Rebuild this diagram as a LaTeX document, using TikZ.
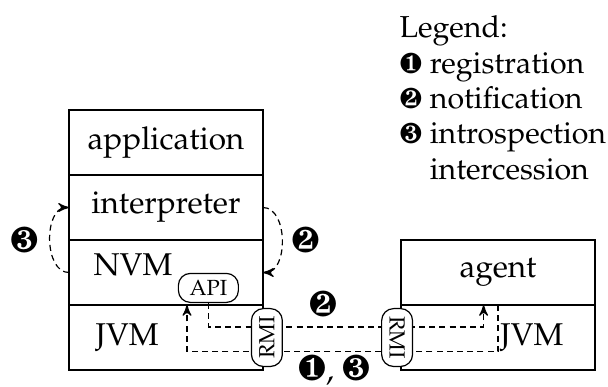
\documentclass[tikz,border=0pt]{standalone}
\usepackage[T1]{fontenc}
\usepackage{mathpazo}
\usepackage{pifont}
\usepackage{tikz}
\usetikzlibrary{arrows}
\usetikzlibrary{positioning}
\usetikzlibrary{calc}

\newcommand{\stepnum}[1]{{\fontsize{12}{11.83}\selectfont\ding{#1}}}
\newcommand{\legnum}[1]{{\fontsize{9.6}{11.83}\selectfont\ding{#1}}}

\tikzset{
  every node/.style={font=\fontsize{10.5}{11.83}\selectfont},
  layer/.style={draw, minimum width=64.67pt, minimum height=21.67pt, inner sep=0pt, outer sep=0pt},
  tag/.style={inner sep=0pt},
  iface/.style={draw, fill=white, rounded corners=4pt, font=\fontsize{7.3}{8}\selectfont, inner sep=1.5pt},
  flow/.style={dash pattern=on 2pt off 1.4pt, -stealth'},
}

\begin{document}
\begin{tikzpicture}
    \useasboundingbox (0,0) rectangle (202.67pt,-128.67pt);
    % left stack
    \node[layer] (app) at (55.33pt,-47.5pt) {application};
    \node[layer, below=0pt of app] (interp) {interpreter};
    \node[layer, below=0pt of interp] (nvm) {};
    \node[layer, below=0pt of nvm] (jvm) {};
    \node[tag, below right=4.3pt and 8pt of nvm.north west] (nvmname) {NVM};
    \node[tag, right=8.7pt of jvm.west] (jvmname) {JVM};
    \node[iface, minimum width=20pt, minimum height=9.67pt, above left=0.67pt and 8pt of nvm.south east] (api) {API};
    % right stack
    \node[layer, right=46pt of jvm] (ajvm) {};
    \node[layer, above=0pt of ajvm] (agent) {agent};
    \node[tag, left=10.3pt of ajvm.east] (ajvmname) {JVM};

    % loops inside the application
    \draw[flow] (nvm.west) to[out=180, in=180] (interp.west);
    \draw[flow] (interp.east) to[out=0, in=0] (nvm.east);
    \node[tag, left=10pt of interp.south west] (introlbl) {\stepnum{184}};
    \node[tag, right=9.3pt of interp.south east] (notiflbl) {\stepnum{183}};

    % remote calls
    \coordinate (notifend) at ($(ajvm.north)+(-4.8pt,0)$);
    \coordinate (introend) at ($(jvm.north)+(7pt,0)$);
    \draw[flow] (api.south) |- ($(notifend)+(0,-7.3pt)$) -- (notifend);
    \draw[flow] (ajvm.north) |- ($(introend)+(0,-15.5pt)$) -- (introend);
    \node[tag] (remotenotif) at ($(jvm.north east)!0.5!(ajvm.north west)+(-3pt,0.5pt)$) {\stepnum{183}};
    \node[tag] (remoteintro) at ($(jvm.south east)!0.5!(ajvm.south west)+(0.7pt,-0.2pt)$) {\stepnum{182}, \stepnum{184}};
    \node[iface, rotate=90, minimum width=19.3pt, minimum height=10.3pt] (rmileft) at ($(jvm.east)+(1.3pt,0)$) {RMI};
    \node[iface, rotate=-90, minimum width=19.3pt, minimum height=10.3pt] (rmiright) at ($(ajvm.west)+(-1.3pt,0)$) {RMI};

    % legend
    \node[tag, anchor=north west, align=left, font=\fontsize{10.1}{11.83}\selectfont] (legend) at (133pt,-5pt)
      {Legend:\\ \legnum{182} registration\\ \legnum{183} notification\\
       \legnum{184} introspection\\ \phantom{\legnum{184}} intercession};
\end{tikzpicture}
\end{document}
